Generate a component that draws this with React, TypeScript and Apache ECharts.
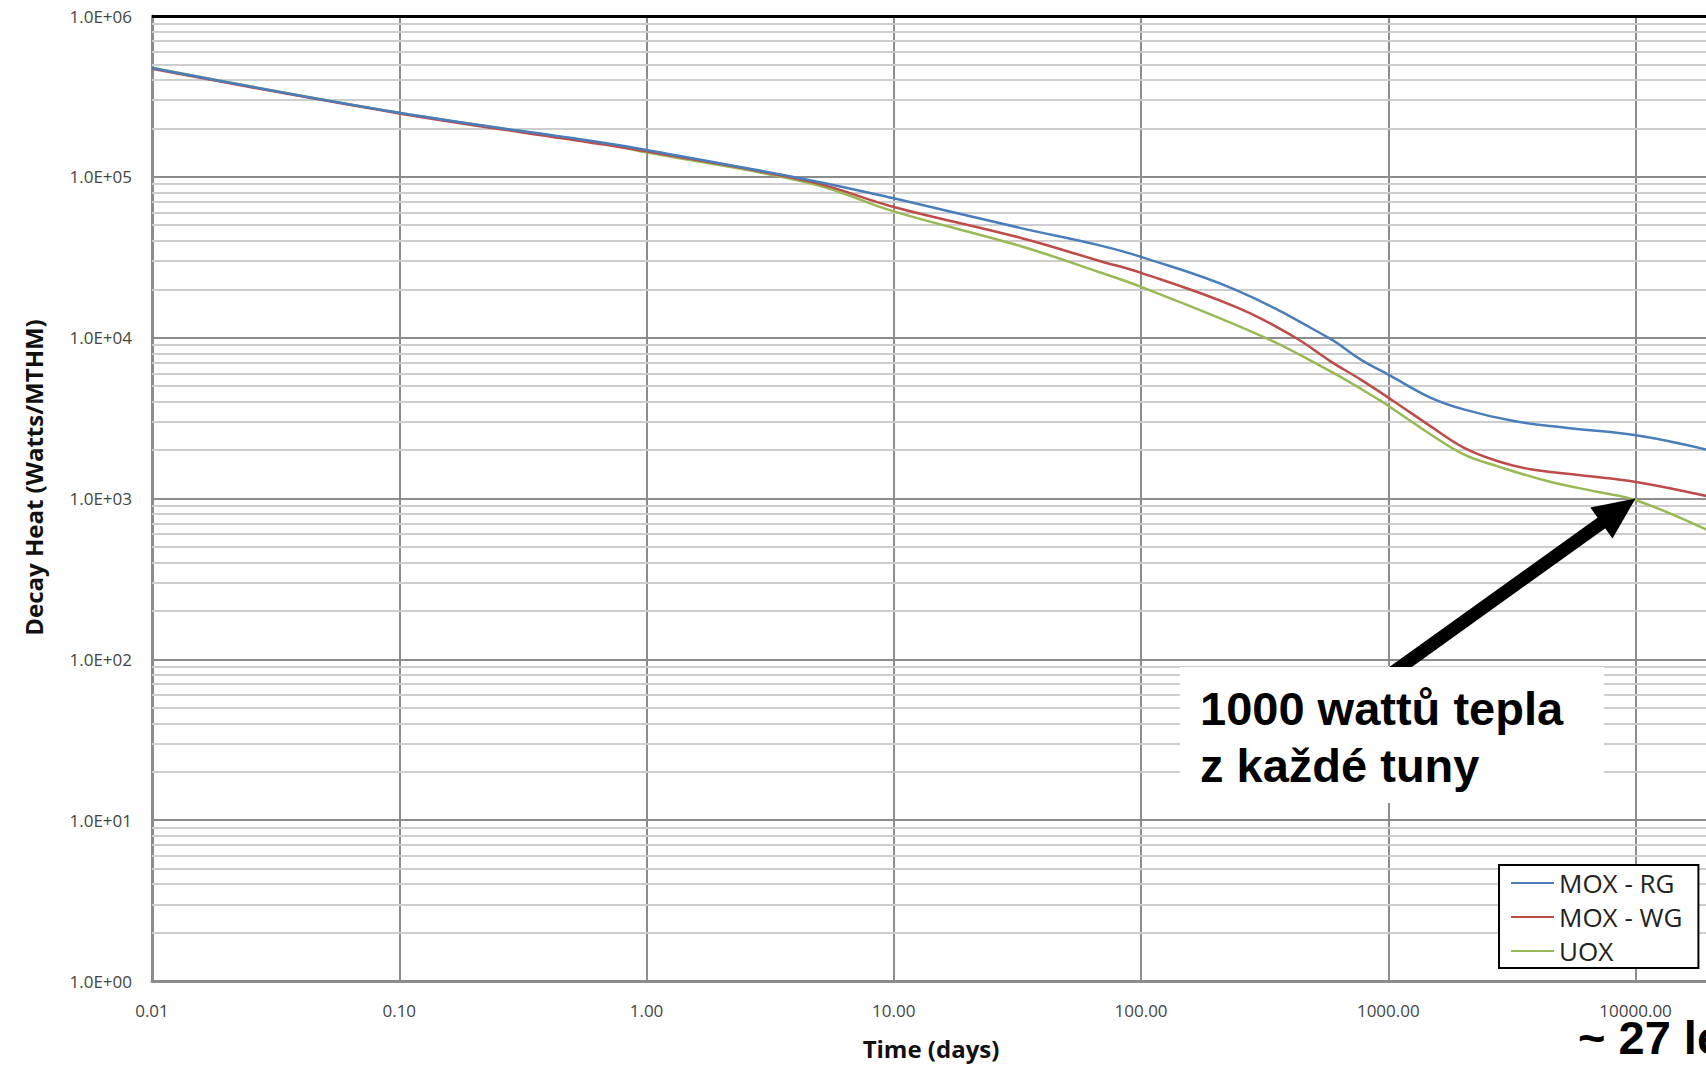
import React, { useEffect, useRef } from "react";
import * as echarts from "echarts";

// ---- data ----
const seriesNames = ["MOX - RG", "MOX - WG", "UOX"];
const seriesColors = ["#4a7ebb", "#be4b48", "#98b954"];

const rgDays = [0.01, 0.1, 0.65, 1, 4.63, 10, 32.7, 68, 100, 240, 572, 771, 1026, 1479, 2018, 3215, 5120, 10040, 20000];
const rgHeat = [4.75e5, 2.5e5, 1.64e5, 1.47e5, 9.5e4, 7.35e4, 4.8e4, 3.75e4, 3.18e4, 1.99e4, 1.0e4, 7330, 5770, 4240, 3580, 3030, 2760, 2470, 1990];

const wgDays = [0.01, 0.1, 0.65, 1, 4.63, 10, 32.7, 68, 100, 240, 412, 582, 771, 1026, 1479, 2018, 2754, 3756, 5984, 10040, 20000];
const wgHeat = [4.69e5, 2.48e5, 1.6e5, 1.44e5, 9.3e4, 6.5e4, 4.17e4, 3.0e4, 2.53e4, 1.56e4, 1.02e4, 7150, 5500, 4130, 2820, 2070, 1710, 1520, 1395, 1268, 1025];

const uoxDays = [0.01, 0.1, 0.65, 1, 4.63, 10, 32.7, 68, 100, 309, 582, 912, 1026, 1479, 2018, 2754, 4388, 6988, 10040, 20000];
const uoxHeat = [4.77e5, 2.5e5, 1.62e5, 1.42e5, 9.1e4, 6.1e4, 3.7e4, 2.55e4, 2.07e4, 1.02e4, 6190, 4130, 3670, 2510, 1880, 1590, 1285, 1100, 976, 625];

const xMin = 0.01;
const xMax = 20000;
const yMin = 1;
const yMax = 1e6;
const minorMultipliers = [2, 3, 4, 5, 6, 7, 8, 9];
const minorDecades = [1, 10, 100, 1000, 10000, 100000];

const xAxisTitle = "Time (days)";
const yAxisTitle = "Decay Heat (Watts/MTHM)";
const annotationTarget = [10000, 1000];
const annotationLines = ["1000 wattů tepla", "z každé tuny"];
const footnote = "~ 27 let";

const isPow10 = (v: number) => {
  const l = Math.log10(v);
  return Math.abs(l - Math.round(l)) < 1e-6;
};
const fmtX = (v: number) => (isPow10(v) ? v.toFixed(2) : "");
const fmtY = (v: number) => {
  if (!isPow10(v)) return "";
  const e = Math.round(Math.log10(v));
  const m = v / Math.pow(10, e);
  return m.toFixed(1) + "E" + (e < 0 ? "-" : "+") + String(Math.abs(e)).padStart(2, "0");
};

const zip = (xs: number[], ys: number[]) => xs.map((x, i) => [x, ys[i]]);

export default function App() {
  const ref = useRef<HTMLDivElement>(null);
  useEffect(() => {
    if (!ref.current) return;
    const chart = echarts.init(ref.current, undefined, { renderer: "svg" });
    const labelFont = "Open Sans";
    const minorLines = minorDecades
      .flatMap((d) => minorMultipliers.map((m) => m * d))
      .filter((v) => v < yMax)
      .map((v) => ({ yAxis: v }));
    const seriesData = [zip(rgDays, rgHeat), zip(wgDays, wgHeat), zip(uoxDays, uoxHeat)];

    chart.setOption({
      animation: false,
      backgroundColor: "#ffffff",
      grid: { left: 152, top: 16, right: 10, bottom: 82, containLabel: false },
      legend: {
        data: seriesNames,
        orient: "vertical",
        left: 1499,
        top: 865,
        z: 20,
        icon: "rect",
        itemWidth: 43,
        itemHeight: 2,
        itemGap: 4,
        selectedMode: false,
        backgroundColor: "#ffffff",
        borderColor: "#000000",
        borderWidth: 2,
        padding: [3, 16, 2, 12],
        textStyle: { fontFamily: labelFont, fontSize: 26, color: "#222222", lineHeight: 30 },
      },
      xAxis: {
        type: "log",
        logBase: 10,
        min: xMin,
        max: xMax,
        name: xAxisTitle,
        nameLocation: "middle",
        nameGap: 55,
        nameTextStyle: { fontFamily: labelFont, fontWeight: "bold", fontSize: 24, color: "#111111" },
        axisLine: { show: true, lineStyle: { color: "#8c8c8c", width: 3 } },
        axisTick: { show: false },
        axisLabel: { formatter: fmtX, fontFamily: labelFont, fontSize: 17, color: "#444444", margin: 21 },
        splitLine: { show: true, lineStyle: { color: "#8c8c8c", width: 2 } },
      },
      yAxis: {
        type: "log",
        logBase: 10,
        min: yMin,
        max: yMax,
        name: yAxisTitle,
        nameLocation: "middle",
        nameGap: 107,
        nameTextStyle: {
          fontFamily: labelFont,
          fontWeight: "bold",
          fontSize: 24,
          color: "#111111",
          padding: [0, 0, 0, 42],
        },
        axisLine: { show: true, lineStyle: { color: "#8c8c8c", width: 3 } },
        axisTick: { show: false },
        axisLabel: {
          formatter: fmtY,
          fontFamily: labelFont,
          fontSize: 17,
          color: "#444444",
          margin: 20,
          padding: [8, 0, 0, 0],
        },
        splitLine: { show: true, lineStyle: { color: "#8c8c8c", width: 2 } },
      },
      series: [
        {
          name: "__grid",
          type: "line",
          data: [[1, 1]],
          showSymbol: false,
          symbol: "none",
          lineStyle: { opacity: 0 },
          silent: true,
          z: 1,
          markLine: {
            silent: true,
            z: 1,
            symbol: ["none", "none"],
            label: { show: false },
            emphasis: { disabled: true },
            lineStyle: { color: "#cdcdcd", width: 2, type: "solid" },
            data: [...minorLines, { yAxis: yMax, lineStyle: { color: "#000000", width: 3, type: "solid" } }],
          },
        },
        ...seriesNames.map((name, i) => ({
          name,
          type: "line",
          data: seriesData[i],
          showSymbol: false,
          symbol: "none",
          smooth: 0.4,
          z: 3 + (2 - i),
          color: seriesColors[i],
          lineStyle: { color: seriesColors[i], width: 2.5 },
        })),
      ],
    });

    const tip = chart.convertToPixel({ xAxisIndex: 0, yAxisIndex: 0 }, annotationTarget) as number[];
    const back = [-0.813, 0.583];
    const perp = [0.583, 0.813];
    const headLen = 42;
    const headHalf = 19;
    const base = [tip[0] + back[0] * headLen, tip[1] + back[1] * headLen];
    const shaftEnd = [tip[0] + back[0] * (headLen - 4), tip[1] + back[1] * (headLen - 4)];
    const tail = [tip[0] + back[0] * 330, tip[1] + back[1] * 330];
    const textFont = "Liberation Sans";

    chart.setOption({
      graphic: [
        {
          type: "line",
          z: 50,
          silent: true,
          shape: { x1: tail[0], y1: tail[1], x2: shaftEnd[0], y2: shaftEnd[1] },
          style: { stroke: "#000000", lineWidth: 13 },
        },
        {
          type: "polygon",
          z: 50,
          silent: true,
          shape: {
            points: [
              [tip[0], tip[1]],
              [base[0] + perp[0] * headHalf, base[1] + perp[1] * headHalf],
              [base[0] - perp[0] * headHalf, base[1] - perp[1] * headHalf],
            ],
          },
          style: { fill: "#000000" },
        },
        {
          type: "rect",
          z: 51,
          silent: true,
          shape: { x: 1180, y: 667, width: 424, height: 136 },
          style: { fill: "#ffffff" },
        },
        {
          type: "text",
          z: 52,
          silent: true,
          x: 1200,
          y: 708,
          style: {
            text: annotationLines[0],
            fontFamily: textFont,
            fontWeight: "bold",
            fontSize: 47,
            fill: "#000000",
            verticalAlign: "middle",
            align: "left",
          },
        },
        {
          type: "text",
          z: 52,
          silent: true,
          x: 1200,
          y: 765,
          style: {
            text: annotationLines[1],
            fontFamily: textFont,
            fontWeight: "bold",
            fontSize: 47,
            fill: "#000000",
            verticalAlign: "middle",
            align: "left",
          },
        },
        {
          type: "text",
          z: 52,
          silent: true,
          x: 1578,
          y: 1037,
          style: {
            text: footnote,
            fontFamily: textFont,
            fontWeight: "bold",
            fontSize: 47,
            fill: "#000000",
            verticalAlign: "middle",
            align: "left",
          },
        },
      ],
    });

    return () => chart.dispose();
  }, []);

  return (
    <div style={{ position: "fixed", left: 0, top: 0, width: 1706, height: 1065, overflow: "hidden", background: "#fff" }}>
      <div ref={ref} style={{ width: 1720, height: 1065 }} />
    </div>
  );
}
